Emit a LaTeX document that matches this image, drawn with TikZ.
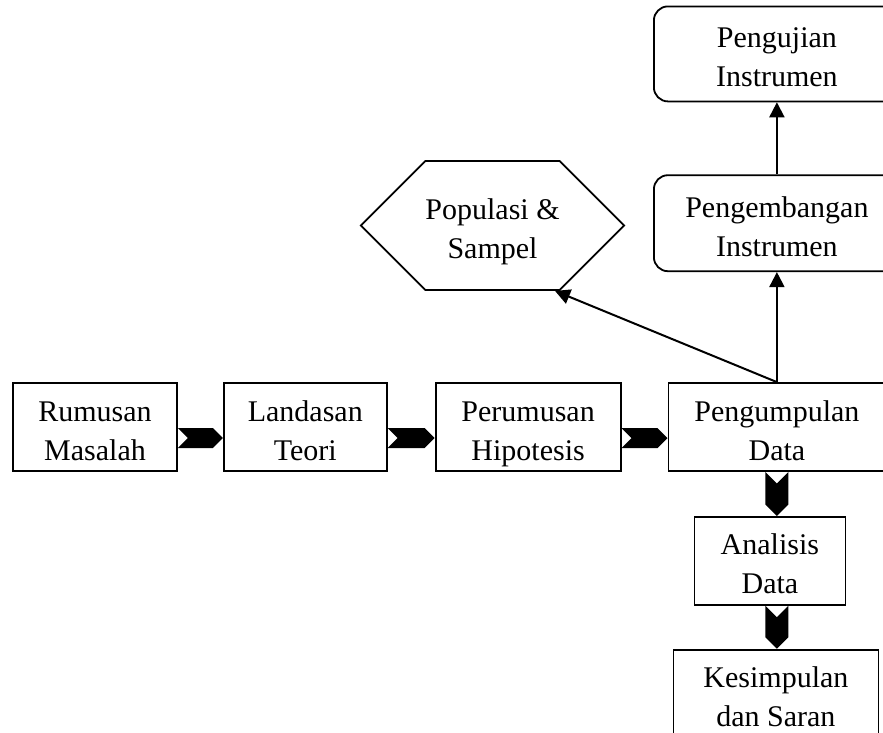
\documentclass[tikz,border=0pt]{standalone}
\usepackage{fontspec}
\setmainfont{Liberation Serif}
\usetikzlibrary{shapes,arrows.meta,positioning,calc}

\begin{document}
\begin{tikzpicture}[x=1pt, y=-1pt,
    txt/.style={align=center, inner sep=0pt, font=\fontsize{30}{39}\selectfont, text height=68pt, text depth=2pt},
    box/.style={draw, rectangle, line width=1.8pt, minimum height=88pt, txt},
    rbox/.style={box, rounded corners=14pt, minimum height=96pt},
    hexa/.style={draw, signal, signal to=west and east, signal pointer angle=90, line width=1.8pt, txt},
    chev/.style={signal, fill=black, inner sep=0pt, signal pointer angle=90},
    arr/.style={line width=2pt, -{Triangle[length=15pt, width=15pt]}}]
    \useasboundingbox (0,0) rectangle (883,732);

    % Main row
    \node[box, minimum width=164pt] (rm) at (95,427) {Rumusan\\Masalah};
    \node[box, minimum width=163pt, right=45pt of rm] (lt) {Landasan\\Teori};
    \node[box, minimum width=185pt, right=47pt of lt] (ph) {Perumusan\\Hipotesis};
    \node[box, minimum width=217pt, right=46pt of ph] (pd) {Pengumpulan\\Data};

    % Downward column
    \node[box, minimum width=151pt, below=44pt of pd, xshift=-7pt] (ad) {Analisis\\Data};
    \node[box, minimum width=205pt, minimum height=88pt, below=43pt of ad, xshift=6pt] (ks) {Kesimpulan\\dan Saran};

    % Upward column
    \node[rbox, minimum width=246pt, above=110pt of pd] (pe) {Pengembangan\\Instrumen};
    \node[rbox, minimum width=246pt, minimum height=95pt, above=72pt of pe] (pi) {Pengujian\\Instrumen};

    % Population
    \node[hexa, minimum width=251pt, minimum height=129pt] (ps) at (492.5,225.5) {Populasi \&\\Sampel};
    \coordinate (pscorner) at ($(ps.south)+(62.5,0)$);

    % Chevrons
    \node[chev, signal from=west, signal to=east, minimum width=45pt, minimum height=20pt] (c1) at ($(rm.east)!0.5!(lt.west)+(0,11)$) {};
    \node[chev, signal from=west, signal to=east, minimum width=47pt, minimum height=20pt] (c2) at ($(lt.east)!0.5!(ph.west)+(0,11)$) {};
    \node[chev, signal from=west, signal to=east, minimum width=46pt, minimum height=20pt] (c3) at ($(ph.east)!0.5!(pd.west)+(0,11)$) {};
    \node[chev, signal from=north, signal to=south, minimum width=23pt, minimum height=21pt] (c4) at ($(pd.south)!0.5!(pd.south |- ad.north)$) {};
    \node[chev, signal from=north, signal to=south, minimum width=23pt, minimum height=20pt] (c5) at ($(pd.south |- ad.south)!0.5!(pd.south |- ks.north)$) {};

    % Arrows
    \draw[arr] (pd.north) -- (pe.south);
    \draw[arr] (pe.north) -- (pi.south);
    \draw[arr] (pd.north) -- (pscorner);
\end{tikzpicture}
\end{document}
